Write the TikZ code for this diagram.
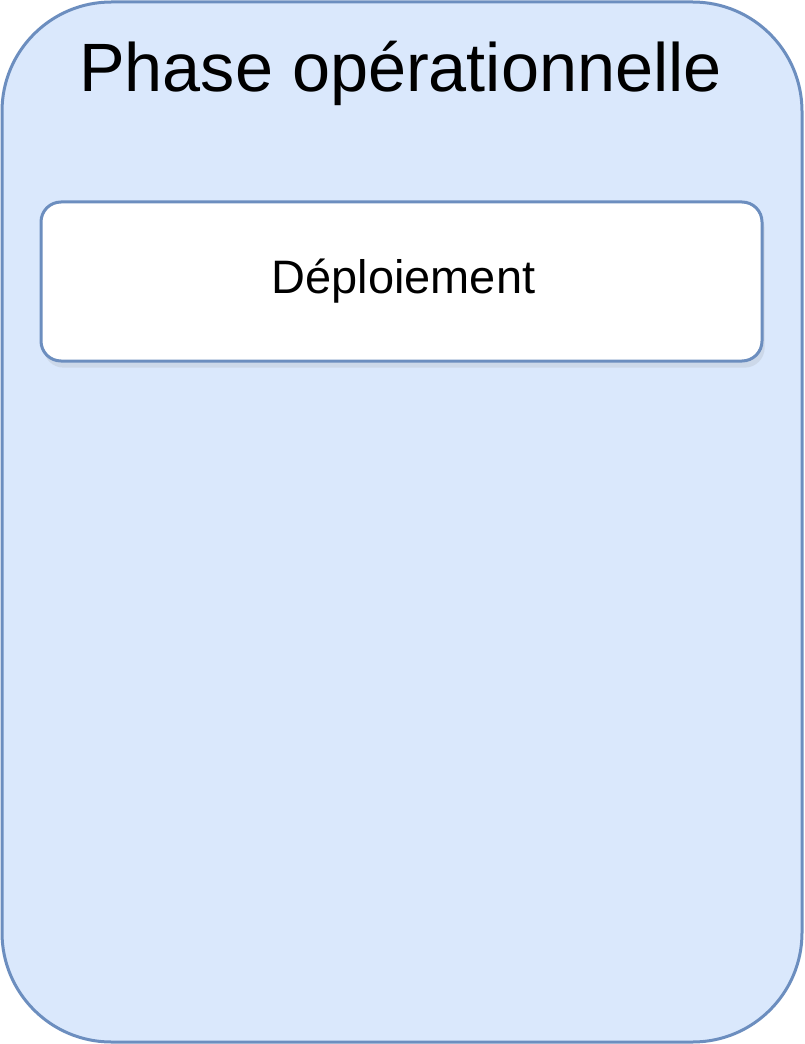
\documentclass[tikz,border=0pt]{standalone}
\usepackage{fontspec}
\setmainfont{Liberation Sans}
\usetikzlibrary{shadows}
\definecolor{phaseblue}{HTML}{DAE8FC}
\definecolor{phaseline}{HTML}{6C8EBF}
\tikzset{
	phasebox/.style={draw=phaseline, fill=phaseblue, line width=2.25pt, rounded corners=82pt, minimum width=600pt, minimum height=780pt, inner sep=0pt},
	stepbox/.style={draw=phaseline, fill=white, line width=2.25pt, rounded corners=15pt, minimum width=540.75pt, minimum height=119.25pt, inner sep=0pt,
		drop shadow={opacity=0.15, shadow xshift=2pt, shadow yshift=-5pt}}
}

\begin{document}
\begin{tikzpicture}[x=0.75pt,y=-0.75pt]
	\useasboundingbox (0,0) rectangle (804,1044);
\node [phasebox] (phase) at (402,522) {};
\node [stepbox] (deploy) at (401.5,281.5) {};
\node [anchor=base, font=\fontsize{51.3}{60}\selectfont] (title) at (400.5,92) {Phase opérationnelle};
\node [anchor=base, font=\fontsize{35.2}{42}\selectfont] (deploytext) at (403.5,294) {Déploiement};
	\end{tikzpicture}
\end{document}
